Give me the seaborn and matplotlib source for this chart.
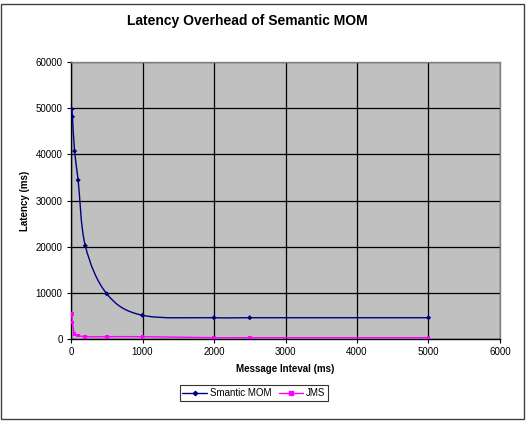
import numpy as np
import pandas as pd
import seaborn as sns
import matplotlib
matplotlib.use("Agg")
import matplotlib.pyplot as plt
from matplotlib.path import Path
from matplotlib.patches import PathPatch, Rectangle
from matplotlib.lines import Line2D

# data
intervals = [10, 20, 50, 100, 200, 500, 1000, 2000, 2500, 5000]
semantic_mom = [49750, 48150, 40700, 34400, 20200, 9800, 5130, 4610, 4610, 4610]
jms = [5450, 3600, 1150, 750, 500, 500, 500, 290, 290, 290]
series_names = ["Smantic MOM", "JMS"]
colors = ["#000080", "#FF00FF"]
markers = ["D", "s"]

df = pd.DataFrame({
    "interval": intervals * 2,
    "latency": semantic_mom + jms,
    "series": [series_names[0]] * len(intervals) + [series_names[1]] * len(intervals),
})

sns.set_style("white")
plt.rcParams["font.family"] = ["Liberation Sans", "DejaVu Sans"]
plt.rcParams.update({"text.color": "black", "axes.labelcolor": "black",
                     "xtick.color": "black", "ytick.color": "black"})

fig = plt.figure(figsize=(5.28, 4.23), dpi=100)
ax = fig.add_axes([71 / 528, 1 - 339 / 423, (500 - 71) / 528, (339 - 62) / 423])
ax.set_facecolor("#C0C0C0")

# outer chart border
fig.patches.append(Rectangle((1 / 528, 1 - 419 / 423), 523 / 528, 415 / 423,
                             transform=fig.transFigure, fill=False,
                             edgecolor="#404040", linewidth=1.0))


def smooth_path(xs, ys):
    pts = np.column_stack([xs, ys]).astype(float)
    n = len(pts)
    verts = [pts[0]]
    codes = [Path.MOVETO]
    for i in range(n - 1):
        p0 = pts[i - 1] if i > 0 else pts[i]
        p1 = pts[i]
        p2 = pts[i + 1]
        p3 = pts[i + 2] if i + 2 < n else pts[i + 1]
        c1 = p1 + (p2 - p0) / 6.0
        c2 = p2 - (p3 - p1) / 6.0
        verts += [c1, c2, p2]
        codes += [Path.CURVE4] * 3
    return Path(verts, codes)


for name, col, mk in zip(series_names, colors, markers):
    sub = df[df["series"] == name]
    ax.add_patch(PathPatch(smooth_path(sub["interval"].values, sub["latency"].values),
                           fill=False, edgecolor=col, linewidth=1.0, zorder=3))

sns.scatterplot(data=df, x="interval", y="latency", hue="series", style="series",
                palette=dict(zip(series_names, colors)),
                markers=dict(zip(series_names, markers)),
                s=7, linewidth=0, ax=ax, legend=False, zorder=4)

ax.set_xlim(0, 6000)
ax.set_ylim(0, 60000)
ax.set_xticks(range(0, 6001, 1000))
ax.set_yticks(range(0, 60001, 10000))
ax.grid(True, color="black", linewidth=0.9)
ax.set_axisbelow(True)
for s in ["top", "right"]:
    ax.spines[s].set_color("#808080")
    ax.spines[s].set_linewidth(1.0)
for s in ["left", "bottom"]:
    ax.spines[s].set_color("black")
    ax.spines[s].set_linewidth(1.0)
ax.tick_params(axis="both", which="major", direction="out", length=3, width=0.8,
               labelsize=7, color="black", labelcolor="black", bottom=True, left=True, pad=3)

ax.set_xlabel("Message Inteval (ms)", fontsize=7, fontweight="bold", labelpad=5, color="black")
ax.set_ylabel("Latency (ms)", fontsize=7, fontweight="bold", labelpad=4, color="black")

fig.text(247 / 528, 1 - 21 / 423, "Latency Overhead of Semantic MOM", ha="center", va="center",
         fontsize=10, fontweight="bold", color="black")

handles = [Line2D([0], [0], color=c, marker=m, markersize=2.2, linewidth=1.0)
           for c, m in zip(colors, markers)]
leg = fig.legend(handles, series_names, loc="center", bbox_to_anchor=(254 / 528, 1 - 393 / 423),
                 ncol=2, fontsize=7, frameon=True, fancybox=False, handlelength=2.5,
                 handletextpad=0.3, columnspacing=0.8, borderpad=0.3)
leg.get_frame().set_edgecolor("black")
leg.get_frame().set_linewidth(0.8)
for t in leg.get_texts():
    t.set_color("black")

fig.savefig("out.png", dpi=100)
